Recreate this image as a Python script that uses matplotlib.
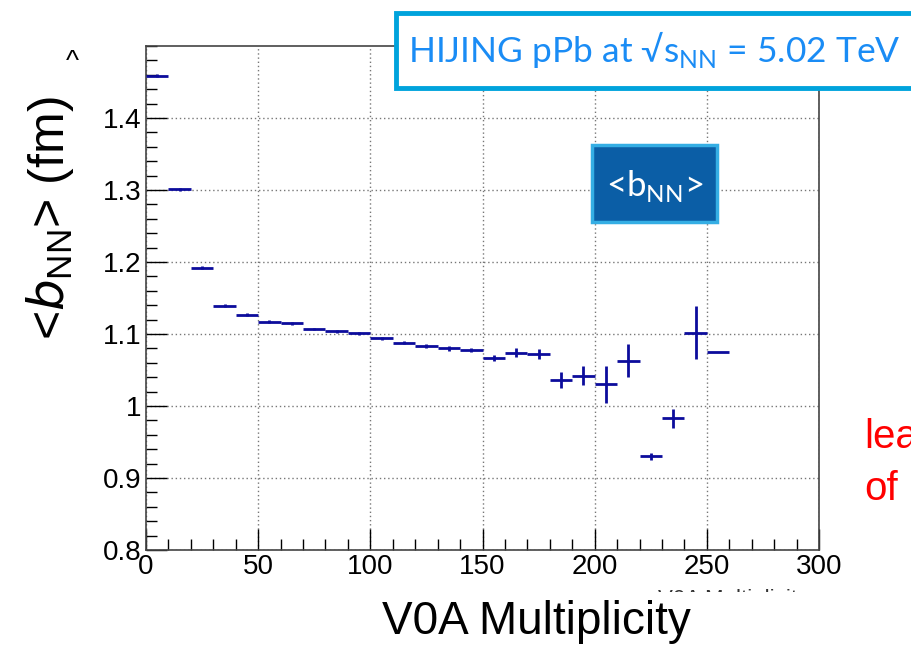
import matplotlib
matplotlib.use("Agg")
import matplotlib.pyplot as plt
from matplotlib.patches import Rectangle
from matplotlib.ticker import MultipleLocator, FixedLocator

# ---- data ----
bin_centers = [5, 15, 25, 35, 45, 55, 65, 75, 85, 95, 105, 115, 125, 135, 145,
               155, 165, 175, 185, 195, 205, 215, 225, 235, 245, 255]
mean_b = [1.459, 1.301, 1.192, 1.139, 1.127, 1.117, 1.115, 1.107, 1.104, 1.101,
          1.094, 1.088, 1.083, 1.080, 1.078, 1.067, 1.074, 1.072, 1.036, 1.042,
          1.030, 1.063, 0.930, 0.983, 1.102, 1.075]
err_b = [0.002, 0.002, 0.002, 0.002, 0.002, 0.002, 0.002, 0.002, 0.002, 0.002,
         0.002, 0.002, 0.003, 0.003, 0.003, 0.004, 0.006, 0.007, 0.011, 0.013,
         0.026, 0.023, 0.005, 0.013, 0.037, 0.0]
half_width = 5
x_ticks = [0, 50, 100, 150, 200, 250, 300]
y_ticks = [0.8, 0.9, 1.0, 1.1, 1.2, 1.3, 1.4]
y_tick_labels = ["0.8", "0.9", "1", "1.1", "1.2", "1.3", "1.4"]

W, H = 911, 647
fig = plt.figure(figsize=(W / 100, H / 100), dpi=100)
fig.patch.set_facecolor("white")

def fx(px):
    return px / W

def fy(py):
    return 1 - py / H

ax = fig.add_axes([fx(146), fy(550), fx(819) - fx(146), fy(46) - fy(550)])
ax.set_xlim(0, 300)
ax.set_ylim(0.8, 1.5)

ax.errorbar(bin_centers, mean_b, xerr=half_width, yerr=err_b, fmt="none",
            ecolor="#0c0c9c", elinewidth=2.0, capsize=0, zorder=3)

ax.xaxis.set_major_locator(FixedLocator(x_ticks))
ax.xaxis.set_minor_locator(MultipleLocator(10))
ax.yaxis.set_major_locator(FixedLocator(y_ticks))
ax.yaxis.set_minor_locator(MultipleLocator(0.02))
ax.set_yticklabels(y_tick_labels)
ax.set_xticklabels([str(t) for t in x_ticks])

ax.grid(True, which="major", color="#777777", linestyle=(0, (1, 2)), linewidth=1.0)
ax.tick_params(which="major", direction="in", length=15, width=1.0,
               labelsize=20, top=False, right=False, pad=3)
ax.tick_params(which="minor", direction="in", length=8, width=1.0,
               top=False, right=False)
for lab in ax.get_xticklabels() + ax.get_yticklabels():
    lab.set_family(["Liberation Sans", "DejaVu Sans"])
for sp in ax.spines.values():
    sp.set_color("#444444")
    sp.set_linewidth(1.2)

# y axis label
fig.text(fx(50), fy(218), r"<$b_{\mathregular{NN}}$> (fm)", rotation=90,
         ha="center", va="center", fontsize=36,
         family=["Liberation Sans", "DejaVu Sans"])
fig.text(fx(72), fy(62), "^", ha="center", va="center", fontsize=20,
         family=["Liberation Sans", "DejaVu Sans"])

# hidden small axis title, mostly covered
fig.text(fx(808), fy(600), "V0A Multiplicity", ha="right", va="center",
         fontsize=16, color="#333333", family=["Liberation Sans", "DejaVu Sans"],
         zorder=1)
fig.add_artist(Rectangle((fx(560), fy(647)), fx(300), fy(592) - fy(647),
                         transform=fig.transFigure, facecolor="white",
                         edgecolor="none", zorder=2))

# x axis label
fig.text(fx(536), fy(622), "V0A Multiplicity", ha="center", va="center",
         fontsize=33, family=["Liberation Sans", "DejaVu Sans"], zorder=3)

# title box
fig.add_artist(Rectangle((fx(396), fy(88)), fx(540), fy(13) - fy(88),
                         transform=fig.transFigure, facecolor="white",
                         edgecolor="#00a3dc", linewidth=3.5, zorder=4))
fig.text(fx(408), fy(50), r"HIJING pPb at √s$_{\mathregular{NN}}$ = 5.02 TeV",
         ha="left", va="center", fontsize=25.5, color="#1a8cf5",
         family=["Lato", "DejaVu Sans"], zorder=5)

# <b_NN> box
fig.add_artist(Rectangle((fx(592), fy(222)), fx(125), fy(145) - fy(222),
                         transform=fig.transFigure, facecolor="#0b5ea6",
                         edgecolor="#35aee4", linewidth=2.5, zorder=4))
fig.text(fx(654.5), fy(186), r"<b$_{\mathregular{NN}}$>", ha="center",
         va="center", fontsize=25, color="white",
         family=["Lato", "DejaVu Sans"], zorder=5)

# red text, cut off at the right edge as in the reference
fig.text(fx(864), fy(437), "lea", ha="left", va="center", fontsize=29,
         color="#ff0000", family=["Liberation Sans", "DejaVu Sans"])
fig.text(fx(864), fy(489), "of", ha="left", va="center", fontsize=29,
         color="#ff0000", family=["Liberation Sans", "DejaVu Sans"])

fig.savefig("out.png", dpi=100, facecolor="white")
